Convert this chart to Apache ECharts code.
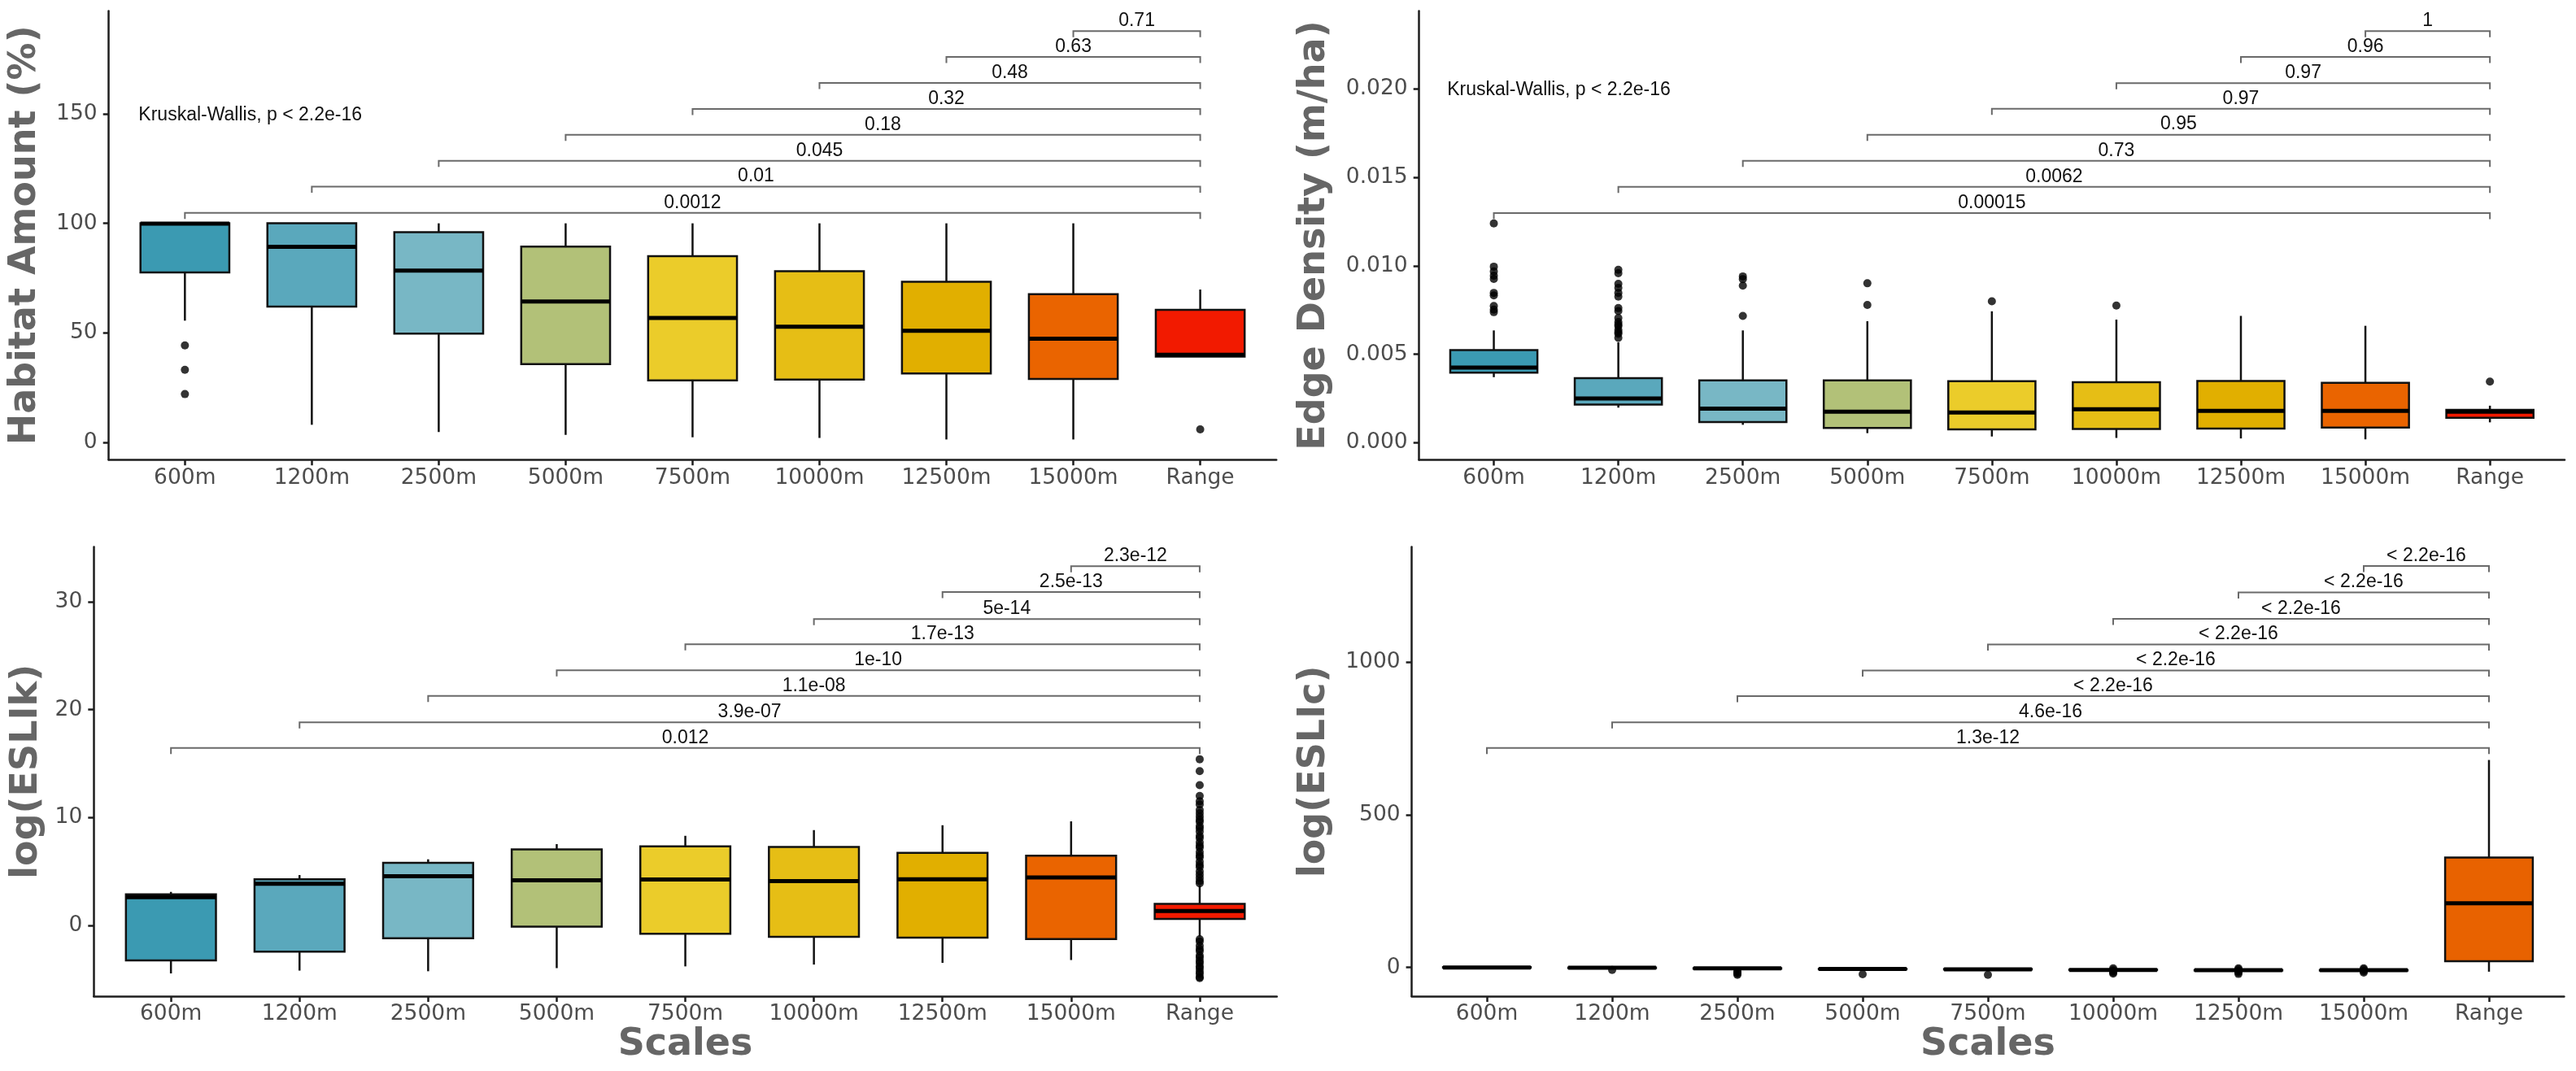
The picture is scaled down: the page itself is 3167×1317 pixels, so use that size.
<!DOCTYPE html>
<html><head><meta charset="utf-8">
<script src="https://cdn.jsdelivr.net/npm/echarts@6/dist/echarts.min.js"></script>
<style>html,body{margin:0;padding:0;background:#fff}#c{width:3167px;height:1317px}</style>
</head><body><div id="c"></div>
<script>
// ---------- data ----------
const categories = ['600m','1200m','2500m','5000m','7500m','10000m','12500m','15000m','Range'];

const fillTop = ['#3B9AB2','#5AA8BC','#78B7C5','#B2C178','#EBCC2A','#E6BE15','#E1AF00','#EA6400','#F21A00'];
const fillEslic = ['#3B9AB2','#5AA8BC','#78B7C5','#B2C178','#EBCC2A','#E6BE15','#E1AF00','#EA6400','#E86200'];

// [lower whisker, Q1, median, Q3, upper whisker]
const habitatBox = [
  [55.6, 77.6, 99.9, 100, 100],
  [8.1, 62.0, 89.3, 100, 100],
  [4.8, 49.7, 78.4, 96.0, 100],
  [3.5, 35.8, 64.3, 89.4, 100],
  [2.4, 28.4, 56.8, 85.0, 100],
  [2.1, 28.7, 52.8, 78.2, 100],
  [1.4, 31.5, 51.0, 73.3, 100],
  [1.4, 29.0, 47.4, 67.7, 100],
  [39.2, 39.2, 40.0, 60.5, 69.8]
];
const habitatOutliers = [[44.3, 33.2, 22.1], [], [], [], [], [], [], [], [6.0]];

const edgeBox = [
  [0.00371, 0.00397, 0.00425, 0.00524, 0.00635],
  [0.00199, 0.00216, 0.00251, 0.00366, 0.00568],
  [0.00102, 0.00118, 0.00193, 0.00353, 0.00635],
  [0.00055, 0.000845, 0.00176, 0.00353, 0.00687],
  [0.00036, 0.000757, 0.00172, 0.00348, 0.00743],
  [0.00028, 0.00079, 0.0019, 0.00343, 0.00696],
  [0.00025, 0.00081, 0.00181, 0.0035, 0.00717],
  [0.0002, 0.00086, 0.00181, 0.00339, 0.00661],
  [0.00116, 0.00142, 0.00176, 0.00186, 0.0021]
];
const edgeOutliers = [
  [0.01239, 0.00995, 0.00968, 0.00944, 0.00926, 0.00847, 0.00833, 0.00773, 0.00752, 0.00738],
  [0.00977, 0.00958, 0.00898, 0.00875, 0.00847, 0.00826, 0.00761, 0.00744, 0.00705, 0.00682, 0.00668, 0.00659, 0.00637, 0.00625, 0.00616, 0.00593],
  [0.0094, 0.00925, 0.00888, 0.00717],
  [0.00901, 0.00779],
  [0.00799],
  [0.00775],
  [], [],
  [0.00346]
];

const eslikBox = [
  [-4.46, -3.25, 2.61, 2.87, 3.1],
  [-4.2, -2.44, 3.85, 4.27, 4.66],
  [-4.26, -1.2, 4.56, 5.8, 6.12],
  [-3.97, -0.13, 4.17, 7.04, 7.53],
  [-3.81, -0.78, 4.24, 7.33, 8.3],
  [-3.64, -1.07, 4.1, 7.26, 8.83],
  [-3.48, -1.14, 4.27, 6.71, 9.28],
  [-3.22, -1.27, 4.43, 6.45, 9.64],
  [-1.04, 0.59, 1.33, 1.99, 3.69]
];
const eslikOutliers = [[], [], [], [], [], [], [], [],
  [15.4, 14.3, 13.0, 12.0, 11.5, 11.2, 10.7, 10.4, 10.1, 9.8, 9.6, 9.2, 9.0, 8.7, 8.3, 8.1, 7.7, 7.4, 7.2, 6.8, 6.5, 6.3, 5.9, 5.6, 5.4, 5.0, 4.7, 4.4, 4.1, 3.9,
   -1.3, -1.5, -1.9, -2.2, -2.4, -2.8, -3.0, -3.3, -3.5, -3.8, -4.0, -4.3, -4.5, -4.8, -4.9]
];

const eslicBox = [
  [-3, -1, 0, 1, 3],
  [-5, -2, -1, 0, 2],
  [-6, -4, -3, -2, 0],
  [-8, -6, -5, -4, -2],
  [-9, -7, -6, -5, -3],
  [-11, -9, -8, -7, -5],
  [-12, -10, -9, -8, -6],
  [-12, -10, -9, -8, -6],
  [-13.8, 20.8, 210.2, 359.8, 679]
];
const eslicOutliers = [[], [-8], [-12, -16, -20, -24], [-22], [-24], [-3, -8, -12, -16, -20], [-3, -7, -12, -16, -21], [-3, -7, -12, -17], []];

// pairwise comparison brackets (each group vs Range), from 600m upward
const habitatPLabels = ['0.0012', '0.01', '0.045', '0.18', '0.32', '0.48', '0.63', '0.71'];
const habitatBracketY = [104.8, 116.7, 128.5, 140.4, 152.2, 164.0, 175.9, 187.7];
const edgePLabels = ['0.00015', '0.0062', '0.73', '0.95', '0.97', '0.97', '0.96', '1'];
const edgeBracketY = [0.01298, 0.01446, 0.01592, 0.0174, 0.01886, 0.02031, 0.02179, 0.02325];
const eslikPLabels = ['0.012', '3.9e-07', '1.1e-08', '1e-10', '1.7e-13', '5e-14', '2.5e-13', '2.3e-12'];
const eslikBracketY = [16.45, 18.82, 21.27, 23.64, 26.06, 28.4, 30.9, 33.3];
const eslicPLabels = ['1.3e-12', '4.6e-16', '< 2.2e-16', '< 2.2e-16', '< 2.2e-16', '< 2.2e-16', '< 2.2e-16', '< 2.2e-16'];
const eslicBracketY = [718.2, 802, 888.2, 972, 1057.2, 1141, 1227.2, 1313.5];

const kwText = 'Kruskal-Wallis, p < 2.2e-16';

const yTicks1 = [0, 50, 100, 150];
const yTicks2 = [0, 0.005, 0.010, 0.015, 0.020];
const yTicks3 = [0, 10, 20, 30];
const yTicks4 = [0, 500, 1000];

// ---------- chart ----------
const chart = echarts.init(document.getElementById('c'), null, {renderer: 'canvas'});
const AX = '#1e1e1e';
const TICKC = '#4d4d4d';
const TITLEC = '#666666';
const xIdx = [0,1,2,3,4,5,6,7,8];

function xAxis(i, withName) {
  return {
    type: 'value', gridIndex: i, min: -0.6, max: 8.6,
    name: withName ? 'Scales' : '', nameLocation: 'middle', nameGap: 36,
    nameTextStyle: {fontFamily: 'DejaVu Sans', fontWeight: 'bold', fontSize: 46, color: TITLEC},
    splitLine: {show: false},
    axisLine: {show: true, onZero: false, lineStyle: {color: AX, width: 2.5}},
    axisTick: {show: true, length: 7, customValues: xIdx, lineStyle: {color: AX, width: 2.5}},
    axisLabel: {customValues: xIdx, margin: 9, fontFamily: 'DejaVu Sans', fontSize: 26.5, color: TICKC,
      formatter: v => categories[Math.round(v)]}
  };
}
function yAxis(i, name, gap, min, max, ticks, fmt) {
  return {
    type: 'value', gridIndex: i, min: min, max: max,
    name: name, nameLocation: 'middle', nameGap: gap, nameRotate: 90,
    nameTextStyle: {fontFamily: 'DejaVu Sans', fontWeight: 'bold', fontSize: 46, color: TITLEC},
    splitLine: {show: false},
    axisLine: {show: true, onZero: false, lineStyle: {color: AX, width: 2.5}},
    axisTick: {show: true, length: 7, customValues: ticks, lineStyle: {color: AX, width: 2.5}},
    axisLabel: {customValues: ticks, margin: 14, fontFamily: 'DejaVu Sans', fontSize: 26.5, color: TICKC, formatter: fmt}
  };
}

function boxSeries(i, boxes, fills) {
  return {
    type: 'custom', xAxisIndex: i, yAxisIndex: i, z: 2, silent: true,
    data: boxes.map((b, k) => [k].concat(b)),
    encode: {x: 0, y: [1, 2, 3, 4, 5]},
    renderItem: (params, api) => {
      const k = api.value(0);
      const lo = api.coord([k, api.value(1)]);
      const q1 = api.coord([k, api.value(2)]);
      const md = api.coord([k, api.value(3)]);
      const q3 = api.coord([k, api.value(4)]);
      const hi = api.coord([k, api.value(5)]);
      const hw = api.size([0.7, 0])[0] / 2;
      const x = lo[0];
      const ls = {stroke: '#111', lineWidth: 2.5};
      return {type: 'group', children: [
        {type: 'line', shape: {x1: x, y1: hi[1], x2: x, y2: q3[1]}, style: ls},
        {type: 'line', shape: {x1: x, y1: q1[1], x2: x, y2: lo[1]}, style: ls},
        {type: 'rect', shape: {x: x - hw, y: q3[1], width: 2 * hw, height: q1[1] - q3[1]},
          style: {fill: fills[k], stroke: '#111', lineWidth: 2.5}},
        {type: 'line', shape: {x1: x - hw, y1: md[1], x2: x + hw, y2: md[1]}, style: {stroke: '#000', lineWidth: 5}}
      ]};
    }
  };
}
function outlierSeries(i, outs) {
  const d = [];
  outs.forEach((arr, k) => arr.forEach(v => d.push([k, v])));
  return {type: 'scatter', xAxisIndex: i, yAxisIndex: i, z: 3, silent: true, symbol: 'circle', symbolSize: 10,
    itemStyle: {color: '#000'}, data: d};
}
function bracketSeries(i, ys, labels) {
  return {
    type: 'custom', xAxisIndex: i, yAxisIndex: i, z: 4, silent: true,
    data: ys.map((y, k) => [k, 8, y]),
    encode: {x: [0, 1], y: 2},
    renderItem: (params, api) => {
      const a = api.coord([api.value(0), api.value(2)]);
      const b = api.coord([api.value(1), api.value(2)]);
      const tip = 7.5;
      return {type: 'group', children: [
        {type: 'polyline', shape: {points: [[a[0], a[1] + tip], [a[0], a[1]], [b[0], b[1]], [b[0], b[1] + tip]]},
          style: {stroke: '#6a6a6a', lineWidth: 2, fill: null}},
        {type: 'text', style: {text: labels[params.dataIndex], x: (a[0] + b[0]) / 2, y: a[1] - 1,
          align: 'center', verticalAlign: 'bottom', fontFamily: 'Liberation Sans', fontSize: 23, fill: '#111'}}
      ]};
    }
  };
}
function kwSeries(i, x, y) {
  return {
    type: 'custom', xAxisIndex: i, yAxisIndex: i, z: 4, silent: true,
    data: [[x, y]],
    renderItem: (params, api) => {
      const p = api.coord([api.value(0), api.value(1)]);
      return {type: 'text', style: {text: kwText, x: p[0], y: p[1], align: 'left', verticalAlign: 'middle',
        fontFamily: 'Liberation Sans', fontSize: 23, fill: '#111'}};
    }
  };
}

const option = {
  backgroundColor: '#ffffff',
  animation: false,
  grid: [
    {left: 133.7, top: 13.4, width: 1435.5, height: 551.9},
    {left: 1744.7, top: 13.4, width: 1408.3, height: 552.2},
    {left: 115.3, top: 672.4, width: 1454.5, height: 552.7},
    {left: 1735.6, top: 672.4, width: 1416.8, height: 552.7}
  ],
  xAxis: [xAxis(0, false), xAxis(1, false), xAxis(2, true), xAxis(3, true)],
  yAxis: [
    yAxis(0, 'Habitat Amount (%)', 80, -7.83, 196.9, yTicks1, v => String(v)),
    yAxis(1, 'Edge Density (m/ha)', 106, -0.000964, 0.02439, yTicks2, v => v.toFixed(3)),
    yAxis(2, 'log(ESLIk)', 59, -6.58, 35.1, yTicks3, v => String(v)),
    yAxis(3, 'log(ESLIc)', 97, -94.2, 1376.5, yTicks4, v => String(v))
  ],
  series: [
    boxSeries(0, habitatBox, fillTop), outlierSeries(0, habitatOutliers), bracketSeries(0, habitatBracketY, habitatPLabels), kwSeries(0, -0.365, 149.3),
    boxSeries(1, edgeBox, fillTop), outlierSeries(1, edgeOutliers), bracketSeries(1, edgeBracketY, edgePLabels), kwSeries(1, -0.375, 0.01991),
    boxSeries(2, eslikBox, fillTop), outlierSeries(2, eslikOutliers), bracketSeries(2, eslikBracketY, eslikPLabels),
    boxSeries(3, eslicBox, fillEslic), outlierSeries(3, eslicOutliers), bracketSeries(3, eslicBracketY, eslicPLabels)
  ]
};
chart.setOption(option);
</script></body></html>
